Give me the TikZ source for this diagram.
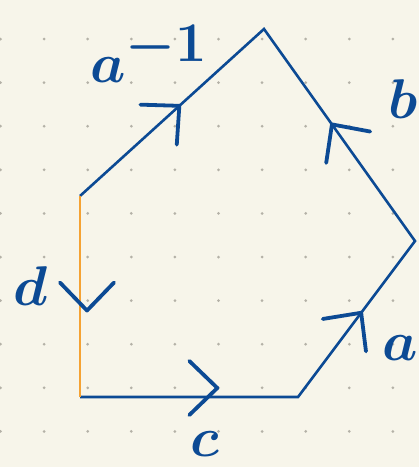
\RequirePackage{fix-cm}
\documentclass[tikz,border=0pt]{standalone}
\usetikzlibrary{decorations.markings}
\definecolor{paper}{HTML}{F7F5EA}
\definecolor{gridDot}{HTML}{B4B1A7}
\definecolor{ink}{HTML}{0C4A94}
\definecolor{inkOrange}{HTML}{F5A233}
\tikzset{
    rim/.style={draw=ink, line width=2.6pt, line join=miter},
    chev/.style={draw=ink, line width=3.8pt, line cap=round, line join=round},
    % chevron on a side: position, sideways shift
    chevat/.style 2 args={
        postaction={decorate},
        decoration={markings, mark=at position #1 with {
            \draw[chev] (-28pt,27pt+#2) -- (0pt,#2) -- (-28pt,-27pt+#2);}}
    },
    lbl/.style={text=ink, font=\fontsize{56}{56}\selectfont\boldmath, inner sep=0pt, anchor=base west}
}
\begin{document}
\begin{tikzpicture}[x=1pt, y=-1pt]
% paper and dot grid
\fill[paper] (0,0) rectangle (419,467);
\foreach \i in {0,...,9} {
    \foreach \j in {0,...,9} {
        \fill[gridDot] (0.5+43.6*\i, 39+43.6*\j) circle (1.5pt);
    }
}

% corners of the pentagon
\coordinate (p1) at (80,196);
\coordinate (p2) at (264,29);
\coordinate (p3) at (415,241);
\coordinate (p4) at (298,397);
\coordinate (p5) at (80,397);

% sides
\draw[rim] (p5) -- (p4) -- (p3) -- (p2) -- (p1);
\draw[rim, draw=inkOrange] (p1) -- (p5);

% direction marks
\path[chevat={0.54}{0pt}] (p1) -- (p2);
\path[chevat={0.55}{0pt}] (p3) -- (p2);
\path[chevat={0.54}{0pt}] (p4) -- (p3);
\path[chevat={0.63}{9pt}] (p5) -- (p4);
\path[chevat={0.57}{7pt}] (p1) -- (p5);

% side labels
\node[lbl] (ainv) at (90,82) {$a^{\textstyle -1}$};
\node[lbl] (b) at (388,118) {$b$};
\node[lbl] (a) at (382,360) {$a$};
\node[lbl] (c) at (190,456) {$c$};
\node[lbl] (d) at (13,305) {$d$};

\pgfresetboundingbox
\useasboundingbox (0,0) rectangle (419,467);
\end{tikzpicture}
\end{document}
